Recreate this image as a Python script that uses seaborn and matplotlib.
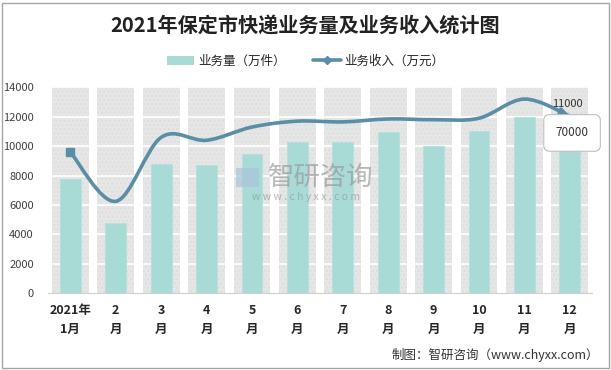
import numpy as np
import pandas as pd
import matplotlib
matplotlib.use("Agg")
import matplotlib.pyplot as plt
import seaborn as sns
from matplotlib.path import Path
from matplotlib.patches import PathPatch, Patch, Rectangle
from matplotlib.lines import Line2D

months = ["2021年\n1月", "2\n月", "3\n月", "4\n月", "5\n月", "6\n月",
          "7\n月", "8\n月", "9\n月", "10\n月", "11\n月", "12\n月"]
volume = [7800, 4800, 8770, 8700, 9450, 10250, 10300, 10950, 10000, 11000, 12000, 10100]
revenue = [9600, 6250, 10600, 10400, 11300, 11700, 11650, 11850, 11800, 11900, 13200, 12050]
band_top = 14000
label_top = "11000"
label_box = "70000"

sns.set_theme(style="white")
plt.rcParams['font.family'] = ['Noto Sans CJK SC', 'DejaVu Sans']

teal = "#A9DBD6"
line_c = "#5A8DA6"

df = pd.DataFrame({"month": months, "volume": volume, "band": [band_top] * len(months)})

fig = plt.figure(figsize=(6.11, 3.70), dpi=100)
ax = fig.add_axes([0.078, 0.2073, 0.8917, 0.5567])

# grey background columns
sns.barplot(data=df, x="month", y="band", color="#E6E6E6", width=0.81,
            saturation=1, ax=ax, zorder=1)
for p in ax.patches:
    p.set_hatch("....")
    p.set_edgecolor("#DEDEDE")
    p.set_linewidth(0)
n_band = len(ax.patches)

# white grid lines over the grey columns
for yv in range(2000, 14001, 2000):
    ax.axhline(yv, color="white", lw=1.2, zorder=2)

sns.barplot(data=df, x="month", y="volume", color=teal, width=0.46,
            saturation=1, ax=ax, zorder=3)
for p in ax.patches[n_band:]:
    p.set_edgecolor("#B5E0DB")
    p.set_linewidth(0.6)

# smoothed revenue line (Catmull-Rom through the data points)
xs = np.arange(len(revenue), dtype=float)
pts = np.column_stack([xs, revenue])
ext = np.vstack([pts[0], pts, pts[-1]])
verts = [tuple(pts[0])]
codes = [Path.MOVETO]
for i in range(len(pts) - 1):
    p0, p1, p2, p3 = ext[i], ext[i + 1], ext[i + 2], ext[i + 3]
    c1 = p1 + (p2 - p0) / 6
    c2 = p2 - (p3 - p1) / 6
    verts += [tuple(c1), tuple(c2), tuple(p2)]
    codes += [Path.CURVE4] * 3
ax.add_patch(PathPatch(Path(verts, codes), fill=False, edgecolor=line_c,
                       lw=2.6, zorder=5, capstyle="round"))
ax.plot(xs[0], revenue[0], marker="s", ms=6, color=line_c, zorder=6)
tail = pts[-1] - (pts[-1] - pts[-2]) / 6
ax.annotate("", xy=tuple(pts[-1]), xytext=tuple(tail),
            arrowprops=dict(arrowstyle="-|>", color=line_c, lw=2.6,
                            mutation_scale=12, shrinkA=0, shrinkB=0), zorder=6)

ax.text(xs[-1] - 0.05, revenue[-1] + 850, label_top, ha="center", va="center",
        fontsize=8, color="#333333", zorder=7)
ax.text(xs[-1] + 0.05, revenue[-1] - 1150, label_box, ha="center", va="center",
        fontsize=8.5, color="#333333", zorder=7,
        bbox=dict(boxstyle="round,pad=1.0,rounding_size=0.5", fc="white",
                  ec="#BFBFBF", lw=0.8), clip_on=False)

ax.set_xlim(-0.5, len(months) - 0.5)
ax.set_ylim(0, 14000)
ax.set_yticks(range(0, 14001, 2000))
ax.set_xlabel("")
ax.set_ylabel("")
ax.tick_params(axis="y", length=0, labelsize=8, labelcolor="#404040", pad=10)
ax.tick_params(axis="x", which="major", length=0, labelsize=9, pad=8)
ax.set_xticks(np.arange(-0.5, len(months), 1.0), minor=True)
ax.tick_params(axis="x", which="minor", length=5, color="#D0D0D0", width=0.8)
for t in ax.get_xticklabels():
    t.set_fontweight("bold")
    t.set_linespacing(1.6)
for s in ["left", "right", "top"]:
    ax.spines[s].set_visible(False)
ax.spines["bottom"].set_color("#D0D0D0")
ax.spines["bottom"].set_linewidth(0.8)

# watermark
fig.text(0.525, 0.52, "智研咨询", fontsize=19, color="#9A9A9A", alpha=0.7,
         ha="center", va="center", zorder=10)
fig.text(0.5, 0.468, "w w w . c h y x x . c o m", fontsize=7.5, color="#9A9A9A",
         alpha=0.7, ha="center", va="center", zorder=10)
fig.patches.append(Rectangle((0.387, 0.495), 0.037, 0.05, transform=fig.transFigure,
                             fc="#A9C4D8", ec="none", alpha=0.7, zorder=10))

fig.text(0.5, 0.93, "2021年保定市快递业务量及业务收入统计图", fontsize=14.5,
         fontweight="bold", ha="center", va="center", color="#222222")

handles = [Patch(facecolor=teal, edgecolor="none"),
           Line2D([0], [0], color=line_c, lw=2.6, marker="D", ms=4)]
fig.legend(handles, ["业务量（万件）", "业务收入（万元）"], loc="center",
           bbox_to_anchor=(0.5, 0.835), ncol=2, frameon=False, fontsize=9,
           handlelength=2.2, columnspacing=2.2, handletextpad=0.3)

fig.text(0.98, 0.04, "制图：智研咨询（www.chyxx.com）", fontsize=9,
         ha="right", va="center", color="#333333")
fig.patches.append(Rectangle((0.004, 0.006), 0.992, 0.985, transform=fig.transFigure,
                             fill=False, ec="#A6A6A6", lw=1))

fig.savefig("out.png", dpi=100)
